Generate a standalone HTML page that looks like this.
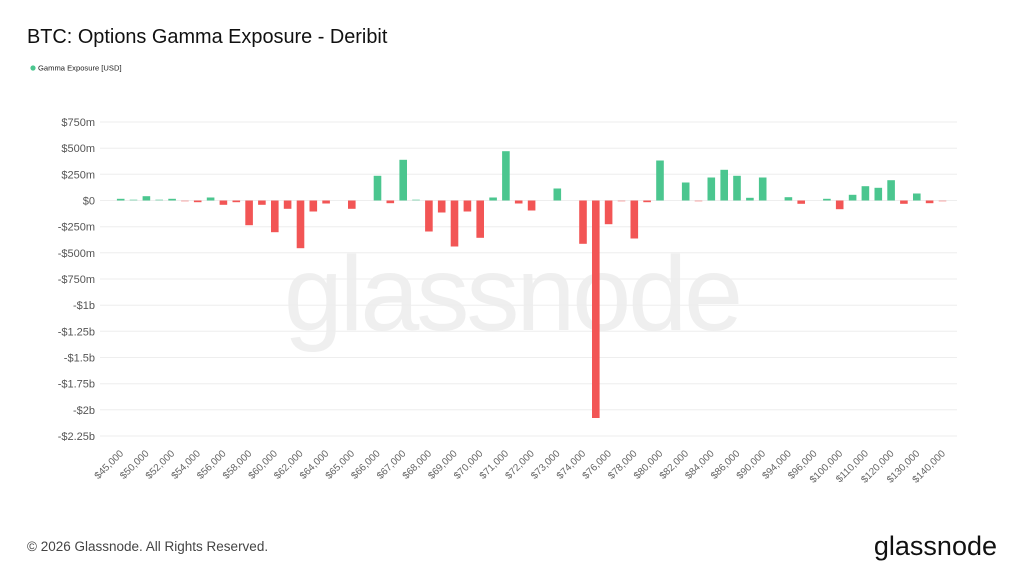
<!DOCTYPE html>
<html><head><meta charset="utf-8"><style>
body{margin:0;background:#fff;}
svg{display:block;font-family:"Liberation Sans",Arial,sans-serif;}
</style></head><body>
<svg width="1024" height="576" viewBox="0 0 1024 576" xmlns="http://www.w3.org/2000/svg">
<rect width="1024" height="576" fill="#fff"/>
<text x="27" y="43" font-size="19.9" fill="#111">BTC: Options Gamma Exposure - Deribit</text>
<circle cx="33" cy="68" r="2.6" fill="#4BC68F"/>
<text x="38" y="70.5" font-size="7.6" fill="#222">Gamma Exposure [USD]</text>
<text x="512" y="330" font-size="106" fill="#efefef" text-anchor="middle" letter-spacing="-3">glassnode</text>
<g stroke="#eeeeee" stroke-width="1">
<line x1="100" x2="957" y1="122" y2="122"/><line x1="100" x2="957" y1="148.2" y2="148.2"/>
<line x1="100" x2="957" y1="174.3" y2="174.3"/><line x1="100" x2="957" y1="200.5" y2="200.5"/>
<line x1="100" x2="957" y1="226.7" y2="226.7"/><line x1="100" x2="957" y1="252.8" y2="252.8"/>
<line x1="100" x2="957" y1="279" y2="279"/><line x1="100" x2="957" y1="305.2" y2="305.2"/>
<line x1="100" x2="957" y1="331.3" y2="331.3"/><line x1="100" x2="957" y1="357.5" y2="357.5"/>
<line x1="100" x2="957" y1="383.7" y2="383.7"/><line x1="100" x2="957" y1="409.8" y2="409.8"/>
<line x1="100" x2="957" y1="436" y2="436"/>
</g>
<g font-size="11" fill="#555" text-anchor="end">
<text x="95" y="126">$750m</text><text x="95" y="152.2">$500m</text><text x="95" y="178.3">$250m</text>
<text x="95" y="204.5">$0</text><text x="95" y="230.7">-$250m</text><text x="95" y="256.8">-$500m</text>
<text x="95" y="283">-$750m</text><text x="95" y="309.2">-$1b</text><text x="95" y="335.3">-$1.25b</text>
<text x="95" y="361.5">-$1.5b</text><text x="95" y="387.7">-$1.75b</text><text x="95" y="413.8">-$2b</text>
<text x="95" y="440">-$2.25b</text>
</g>
<g fill="#4BC68F">
<rect x="116.9" y="198.8" width="7.6" height="1.7"/>
<rect x="129.7" y="199.5" width="7.6" height="1" opacity=".6"/>
<rect x="142.6" y="196.2" width="7.6" height="4.3"/>
<rect x="155.4" y="199.5" width="7.6" height="1" opacity=".6"/>
<rect x="168.3" y="198.8" width="7.6" height="1.7"/>
<rect x="206.8" y="197.5" width="7.6" height="3"/>
<rect x="373.7" y="175.8" width="7.6" height="24.7"/>
<rect x="399.4" y="159.8" width="7.6" height="40.7"/>
<rect x="412.2" y="199.5" width="7.6" height="1" opacity=".6"/>
<rect x="489.3" y="197.5" width="7.6" height="3"/>
<rect x="502.1" y="151.2" width="7.6" height="49.3"/>
<rect x="553.5" y="188.5" width="7.6" height="12"/>
<rect x="656.2" y="160.5" width="7.6" height="40"/>
<rect x="681.9" y="182.5" width="7.6" height="18"/>
<rect x="707.5" y="177.5" width="7.6" height="23"/>
<rect x="720.4" y="169.8" width="7.6" height="30.7"/>
<rect x="733.2" y="175.8" width="7.6" height="24.7"/>
<rect x="746.1" y="197.8" width="7.6" height="2.7"/>
<rect x="758.9" y="177.5" width="7.6" height="23"/>
<rect x="784.6" y="197.2" width="7.6" height="3.3"/>
<rect x="823.1" y="198.8" width="7.6" height="1.7"/>
<rect x="848.8" y="194.8" width="7.6" height="5.7"/>
<rect x="861.6" y="186.2" width="7.6" height="14.3"/>
<rect x="874.5" y="187.8" width="7.6" height="12.7"/>
<rect x="887.3" y="180.2" width="7.6" height="20.3"/>
<rect x="913" y="193.5" width="7.6" height="7"/>
</g>
<g fill="#F25555">
<rect x="181.1" y="200.5" width="7.6" height="1" opacity=".5"/>
<rect x="193.9" y="200.5" width="7.6" height="1.7"/>
<rect x="219.6" y="200.5" width="7.6" height="4.3"/>
<rect x="232.5" y="200.5" width="7.6" height="1.7"/>
<rect x="245.3" y="200.5" width="7.6" height="24.7"/>
<rect x="258.1" y="200.5" width="7.6" height="4.3"/>
<rect x="271" y="200.5" width="7.6" height="31.7"/>
<rect x="283.8" y="200.5" width="7.6" height="8.3"/>
<rect x="296.7" y="200.5" width="7.6" height="47.7"/>
<rect x="309.5" y="200.5" width="7.6" height="11"/>
<rect x="322.3" y="200.5" width="7.6" height="3"/>
<rect x="348" y="200.5" width="7.6" height="8.3"/>
<rect x="386.5" y="200.5" width="7.6" height="2.7"/>
<rect x="425.1" y="200.5" width="7.6" height="31"/>
<rect x="437.9" y="200.5" width="7.6" height="12"/>
<rect x="450.7" y="200.5" width="7.6" height="46"/>
<rect x="463.6" y="200.5" width="7.6" height="11"/>
<rect x="476.4" y="200.5" width="7.6" height="37.3"/>
<rect x="514.9" y="200.5" width="7.6" height="3"/>
<rect x="527.8" y="200.5" width="7.6" height="10"/>
<rect x="579.2" y="200.5" width="7.6" height="43.3"/>
<rect x="592" y="200.5" width="7.6" height="217.5"/>
<rect x="604.8" y="200.5" width="7.6" height="23.7"/>
<rect x="617.7" y="200.5" width="7.6" height="1" opacity=".5"/>
<rect x="630.5" y="200.5" width="7.6" height="38"/>
<rect x="643.3" y="200.5" width="7.6" height="1.7"/>
<rect x="694.7" y="200.5" width="7.6" height="1" opacity=".5"/>
<rect x="797.4" y="200.5" width="7.6" height="3.3"/>
<rect x="835.9" y="200.5" width="7.6" height="8.7"/>
<rect x="900.1" y="200.5" width="7.6" height="3.3"/>
<rect x="925.8" y="200.5" width="7.6" height="2.7"/>
<rect x="938.7" y="200.5" width="7.6" height="1" opacity=".5"/>
</g>
<g font-size="10" fill="#666" text-anchor="end">
<text transform="translate(124,454) rotate(-45)">$45,000</text>
<text transform="translate(149.4,454) rotate(-45)">$50,000</text>
<text transform="translate(175.1,454) rotate(-45)">$52,000</text>
<text transform="translate(200.8,454) rotate(-45)">$54,000</text>
<text transform="translate(226.5,454) rotate(-45)">$56,000</text>
<text transform="translate(252.2,454) rotate(-45)">$58,000</text>
<text transform="translate(277.8,454) rotate(-45)">$60,000</text>
<text transform="translate(303.5,454) rotate(-45)">$62,000</text>
<text transform="translate(329.2,454) rotate(-45)">$64,000</text>
<text transform="translate(354.9,454) rotate(-45)">$65,000</text>
<text transform="translate(380.6,454) rotate(-45)">$66,000</text>
<text transform="translate(406.3,454) rotate(-45)">$67,000</text>
<text transform="translate(432,454) rotate(-45)">$68,000</text>
<text transform="translate(457.6,454) rotate(-45)">$69,000</text>
<text transform="translate(483.3,454) rotate(-45)">$70,000</text>
<text transform="translate(509,454) rotate(-45)">$71,000</text>
<text transform="translate(534.7,454) rotate(-45)">$72,000</text>
<text transform="translate(560.4,454) rotate(-45)">$73,000</text>
<text transform="translate(586.1,454) rotate(-45)">$74,000</text>
<text transform="translate(611.8,454) rotate(-45)">$76,000</text>
<text transform="translate(637.5,454) rotate(-45)">$78,000</text>
<text transform="translate(663.2,454) rotate(-45)">$80,000</text>
<text transform="translate(688.9,454) rotate(-45)">$82,000</text>
<text transform="translate(714.6,454) rotate(-45)">$84,000</text>
<text transform="translate(740.3,454) rotate(-45)">$86,000</text>
<text transform="translate(766,454) rotate(-45)">$90,000</text>
<text transform="translate(791.7,454) rotate(-45)">$94,000</text>
<text transform="translate(817.4,454) rotate(-45)">$96,000</text>
<text transform="translate(843.1,454) rotate(-45)">$100,000</text>
<text transform="translate(868.8,454) rotate(-45)">$110,000</text>
<text transform="translate(894.5,454) rotate(-45)">$120,000</text>
<text transform="translate(920.2,454) rotate(-45)">$130,000</text>
<text transform="translate(945.8,454) rotate(-45)">$140,000</text>
</g>
<text x="27" y="551" font-size="13.5" fill="#444">© 2026 Glassnode. All Rights Reserved.</text>
<text x="997" y="555" font-size="27" fill="#111" text-anchor="end">glassnode</text>
</svg>
</body></html>
